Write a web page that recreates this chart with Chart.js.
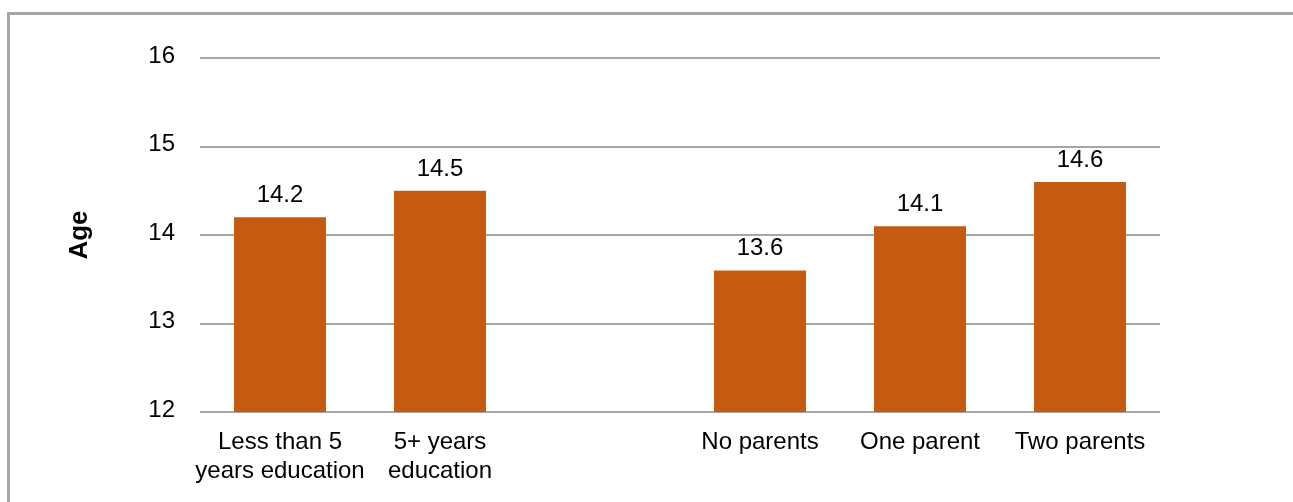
<!DOCTYPE html>
<html>
<head>
<meta charset="utf-8">
<script src="https://cdn.jsdelivr.net/npm/chart.js@4/dist/chart.umd.min.js"></script>
<style>
  html, body { margin: 0; padding: 0; background: #fff; overflow: hidden; width: 1293px; height: 502px; }
  #frame { position: absolute; left: 7px; top: 12px; width: 1400px; height: 600px; border: 3px solid #a6a6a6; box-sizing: border-box; }
  #wrap { position: absolute; left: 0; top: 0; width: 1293px; height: 502px; }
</style>
</head>
<body>
<div id="frame"></div>
<div id="wrap"><canvas id="c" width="1293" height="502"></canvas></div>
<script>
const categories = [
  ['Less than 5', 'years education'],
  ['5+ years', 'education'],
  '',
  'No parents',
  'One parent',
  'Two parents'
];
const ageValues = [14.2, 14.5, null, 13.6, 14.1, 14.6];
const yTicks = [12, 13, 14, 15, 16];
const yTitle = 'Age';

const FONT = "'Liberation Sans', Arial, sans-serif";

const valueLabels = {
  id: 'valueLabels',
  afterDatasetsDraw(chart) {
    const ctx = chart.ctx;
    const meta = chart.getDatasetMeta(0);
    ctx.save();
    ctx.font = '24px ' + FONT;
    ctx.fillStyle = '#000';
    ctx.textAlign = 'center';
    ctx.textBaseline = 'alphabetic';
    meta.data.forEach((bar, i) => {
      const v = ageValues[i];
      if (v === null || v === undefined) return;
      ctx.fillText(v.toFixed(1), bar.x, bar.y - 15);
    });
    ctx.restore();
  }
};

new Chart(document.getElementById('c'), {
  type: 'bar',
  data: {
    labels: categories,
    datasets: [{
      data: ageValues,
      backgroundColor: '#c55a11',
      borderWidth: 0,
      categoryPercentage: 1.0,
      barPercentage: 0.575
    }]
  },
  options: {
    responsive: false,
    animation: false,
    layout: { padding: { top: 58, right: 133, left: 0, bottom: 0 } },
    plugins: { legend: { display: false }, tooltip: { enabled: false } },
    scales: {
      x: {
        grid: { display: false },
        border: { display: false },
        ticks: {
          color: '#000',
          font: { family: FONT, size: 24, lineHeight: 1.2 },
          padding: 8,
          maxRotation: 0,
          autoSkip: false
        },
        afterFit(scale) { scale.height = 90; }
      },
      y: {
        min: 12,
        max: 16,
        afterBuildTicks(scale) { scale.ticks = yTicks.map(v => ({ value: v })); },
        grid: { color: '#a6a6a6', lineWidth: 2, drawTicks: false },
        border: { display: false },
        ticks: {
          color: '#000',
          font: { family: FONT, size: 24 },
          padding: 25,
          labelOffset: -2
        },
        title: {
          display: true,
          text: yTitle,
          color: '#000',
          font: { family: FONT, size: 26, weight: 'bold' },
          padding: { top: 64, bottom: 0 }
        },
        afterFit(scale) { scale.width = 200; }
      }
    }
  },
  plugins: [valueLabels]
});
</script>
</body>
</html>
